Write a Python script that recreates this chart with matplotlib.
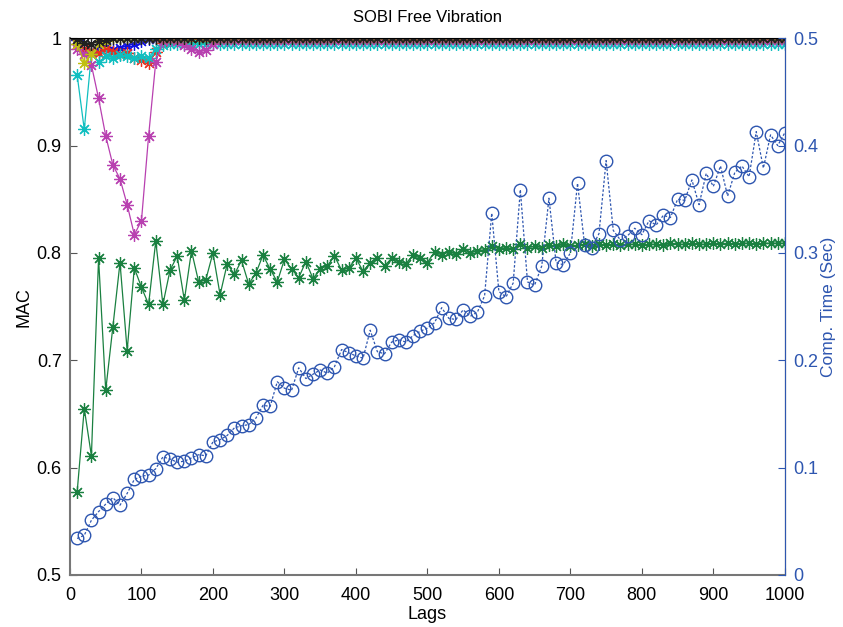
import numpy as np
import matplotlib
matplotlib.use("Agg")
import matplotlib.pyplot as plt

plt.rcParams['font.family'] = ['Liberation Sans', 'DejaVu Sans']

lags = np.arange(10, 1001, 10)

# computation time (right axis)
comp_time = [
    0.034, 0.037, 0.051, 0.059, 0.066, 0.072, 0.065, 0.076, 0.089, 0.092,
    0.093, 0.099, 0.110, 0.108, 0.105, 0.106, 0.109, 0.112, 0.111, 0.124,
    0.126, 0.130, 0.137, 0.139, 0.140, 0.146, 0.158, 0.157, 0.180, 0.174,
    0.172, 0.193, 0.183, 0.187, 0.191, 0.188, 0.194, 0.210, 0.207, 0.204,
    0.202, 0.228, 0.208, 0.206, 0.217, 0.219, 0.217, 0.223, 0.227, 0.230,
    0.235, 0.249, 0.239, 0.238, 0.247, 0.241, 0.245, 0.260, 0.337, 0.264,
    0.259, 0.272, 0.359, 0.273, 0.270, 0.288, 0.351, 0.291, 0.289, 0.300,
    0.365, 0.307, 0.305, 0.318, 0.386, 0.321, 0.312, 0.316, 0.323, 0.317,
    0.330, 0.326, 0.335, 0.333, 0.350, 0.349, 0.368, 0.345, 0.374, 0.362,
    0.381, 0.353, 0.375, 0.381, 0.371, 0.413, 0.379, 0.410, 0.400, 0.412,
]

# MAC values per mode
mac_green = [
    0.577, 0.655, 0.611, 0.795, 0.672, 0.731, 0.791, 0.709, 0.786, 0.768,
    0.752, 0.811, 0.752, 0.784, 0.797, 0.756, 0.802, 0.773, 0.775, 0.800,
    0.761, 0.790, 0.780, 0.793, 0.771, 0.781, 0.798, 0.785, 0.773, 0.794,
    0.785, 0.777, 0.792, 0.776, 0.785, 0.788, 0.797, 0.784, 0.786, 0.795,
    0.783, 0.791, 0.795, 0.788, 0.795, 0.792, 0.790, 0.798, 0.795, 0.791,
    0.801, 0.798, 0.801, 0.799, 0.804, 0.800, 0.802, 0.803, 0.806, 0.804,
    0.805, 0.804, 0.808, 0.805, 0.806, 0.805, 0.807, 0.806, 0.808, 0.806,
    0.807, 0.808, 0.806, 0.808, 0.807, 0.808, 0.807, 0.808, 0.808, 0.807,
    0.808, 0.808, 0.807, 0.809, 0.808, 0.808, 0.809, 0.808, 0.808, 0.809,
    0.808, 0.809, 0.808, 0.809, 0.809, 0.808, 0.809, 0.809, 0.809, 0.809,
]
mac_magenta = [0.99, 0.985, 0.975, 0.944, 0.909, 0.882, 0.869, 0.845, 0.817, 0.830,
               0.909, 0.978, 0.997, 0.998, 0.997, 0.994, 0.990, 0.987, 0.989, 0.995] + [0.998] * 80
mac_cyan = [0.966, 0.915, 0.985, 0.978, 0.983, 0.982, 0.984, 0.983, 0.982, 0.983,
            0.982, 0.990, 0.994] + [0.995] * 87
mac_red = [0.995, 0.990, 0.988, 0.986, 0.990, 0.987, 0.985, 0.986, 0.982, 0.980,
           0.977, 0.987, 0.996] + [0.999] * 87
mac_yellow = [0.995, 0.977, 0.985, 0.995, 0.997] + [1.0] * 95
mac_blue = [0.998, 0.990, 0.988, 0.990, 0.992, 0.989, 0.991, 0.993, 0.995, 0.997] + [0.999] * 90
mac_black = [0.999, 0.996, 0.995, 0.997, 0.998] + [1.0] * 95

mode_series = [
    (mac_blue, '#1010E0'),
    (mac_green, '#1A8040'),
    (mac_red, '#E83020'),
    (mac_cyan, '#10BFC0'),
    (mac_magenta, '#B840B0'),
    (mac_yellow, '#C0C010'),
    (mac_black, '#202020'),
]

time_color = '#2E56B0'
star = (8, 2, 0)

fig = plt.figure(figsize=(8.43, 6.27), dpi=100)
ax = fig.add_axes([0.083, 0.083, 0.848, 0.856])

for vals, col in mode_series:
    ax.plot(lags, vals, color=col, marker=star, markersize=9,
            markeredgewidth=0.9, linewidth=0.9)

ax.set_xlim(0, 1000)
ax.set_ylim(0.5, 1.0)
ax.set_xticks(np.arange(0, 1001, 100))
ax.set_yticks([0.5, 0.6, 0.7, 0.8, 0.9, 1.0])
ax.set_yticklabels(['0.5', '0.6', '0.7', '0.8', '0.9', '1'])
ax.tick_params(direction='in', labelsize=13, length=5, colors='#555555',
               labelcolor='black')
ax.tick_params(axis='x', pad=9)
ax.tick_params(axis='y', pad=6)
ax.set_xlabel('Lags', fontsize=13, labelpad=1)
ax.set_ylabel('MAC', fontsize=13, labelpad=3)
ax.set_title('SOBI Free Vibration', fontsize=12, pad=12)
for s in ['left', 'bottom']:
    ax.spines[s].set_color('#777777')
    ax.spines[s].set_linewidth(1.5)
ax.spines['top'].set_color('black')

ax2 = ax.twinx()
ax2.plot(lags, comp_time, color=time_color, linestyle=(0, (2, 1.5)),
         linewidth=0.9, marker='o', markersize=9, markerfacecolor='none',
         markeredgecolor=time_color, markeredgewidth=1.0)
ax2.set_ylim(0, 0.5)
ax2.set_yticks([0, 0.1, 0.2, 0.3, 0.4, 0.5])
ax2.set_yticklabels(['0', '0.1', '0.2', '0.3', '0.4', '0.5'])
ax2.tick_params(direction='in', labelsize=13, length=5, colors=time_color, pad=6)
ax2.set_ylabel('Comp. Time (Sec)', fontsize=12.5, color=time_color, labelpad=2)
ax2.spines['right'].set_color(time_color)
ax2.spines['left'].set_visible(False)
ax2.spines['bottom'].set_visible(False)
ax2.spines['top'].set_visible(False)

fig.savefig('out.png', dpi=100)
